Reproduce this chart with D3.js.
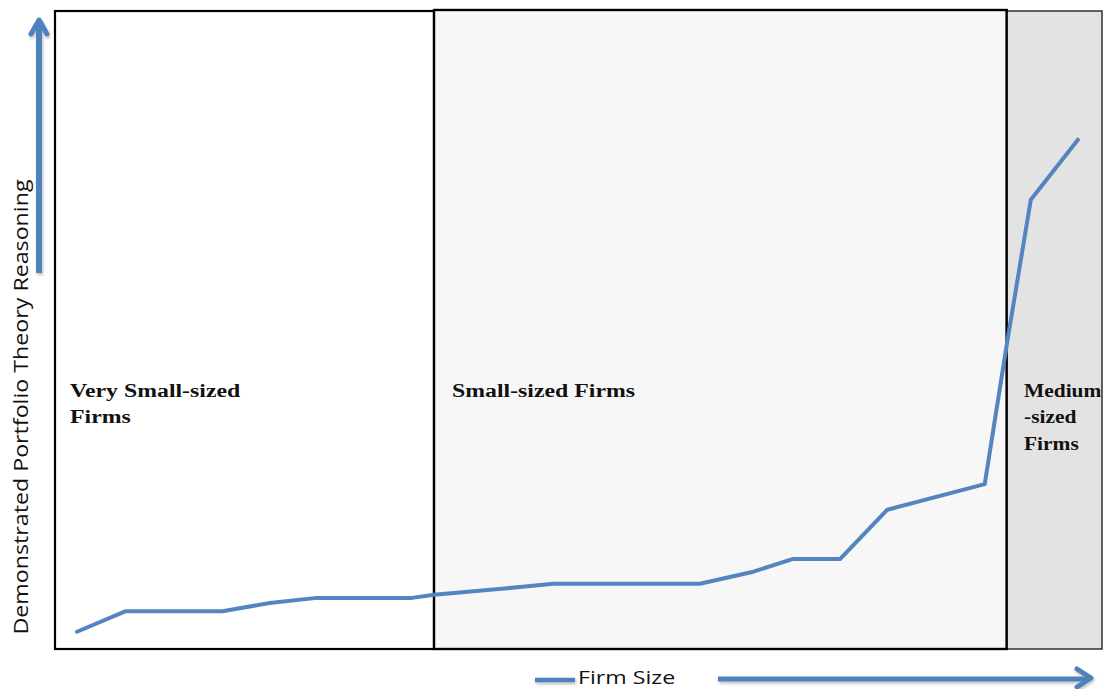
<!DOCTYPE html>
<html>
<head>
<meta charset="utf-8">
<script src="https://cdn.jsdelivr.net/npm/d3@7"></script>
<style>
  html, body { margin: 0; padding: 0; background: #ffffff; }
  svg { display: block; }
</style>
</head>
<body>
<svg id="chart" width="1107" height="689"></svg>
<script>
// Firm size (0–100) against demonstrated portfolio-theory reasoning (0–100)
const firmSize  = [2.1, 6.7, 16.0, 20.5, 25.0, 34.1, 36.2, 40.5, 44.4, 47.6, 61.6, 66.7, 70.5, 75.0, 79.5, 88.8, 90.9, 93.2, 97.7];
const reasoning = [2.7, 5.9, 5.9, 7.2, 8.0, 8.0, 8.5, 9.1, 9.7, 10.2, 10.2, 12.1, 14.1, 14.1, 21.8, 25.8, 47.6, 70.3, 79.7];

// Firm-size bands shown as shaded boxes
const bandNames  = ["Very Small-sized|Firms", "Small-sized Firms", "Medium|-sized|Firms"];
const bandStarts = [0, 36.2, 90.9];
const bandEnds   = [36.2, 90.9, 100];

const yAxisTitle = "Demonstrated Portfolio Theory Reasoning";
const xAxisTitle = "Firm Size";

const svg = d3.select("#chart");
const plot = { left: 55, right: 1102, top: 10, bottom: 649 };

const x = d3.scaleLinear().domain([0, 100]).range([plot.left, plot.right]);
const y = d3.scaleLinear().domain([0, 100]).range([plot.bottom, plot.top]);

const blue = "#4f81bd";

// soft shadow under the axis arrows
const defs = svg.append("defs");
const shadow = defs.append("filter").attr("id", "shade")
  .attr("x", "-20%").attr("y", "-50%").attr("width", "140%").attr("height", "200%");
shadow.append("feDropShadow").attr("dx", 1).attr("dy", 2).attr("stdDeviation", 1.5)
  .attr("flood-color", "#000").attr("flood-opacity", 0.25);

// bands
const bandFill   = ["#ffffff", "#f7f7f7", "#e3e3e3"];
const bandStroke = [2.2, 2.2, 1.4];
const bandTop    = [plot.top + 1, plot.top, plot.top + 1];
const bands = svg.append("g");
bandNames.forEach((name, i) => {
  bands.append("rect")
    .attr("x", x(bandStarts[i]))
    .attr("y", bandTop[i])
    .attr("width", x(bandEnds[i]) - x(bandStarts[i]))
    .attr("height", plot.bottom - bandTop[i])
    .attr("fill", bandFill[i])
    .attr("stroke", i === 2 ? "#222" : "#000")
    .attr("stroke-width", bandStroke[i]);
});
// redraw the middle band outline on top so it is not hidden by its neighbour
bands.append("rect")
  .attr("x", x(bandStarts[1]))
  .attr("y", plot.top)
  .attr("width", x(bandEnds[1]) - x(bandStarts[1]))
  .attr("height", plot.bottom - plot.top)
  .attr("fill", "none").attr("stroke", "#000").attr("stroke-width", 2.2);

// band labels (wide bold serif)
const labelX = [70, 452, 1024];
const labelStretch = [1.22, 1.22, 1.1];
bandNames.forEach((name, i) => {
  const t = svg.append("text")
    .attr("transform", `translate(${labelX[i]},397) scale(${labelStretch[i]},1)`)
    .attr("font-family", "Liberation Serif, Times New Roman, serif")
    .attr("font-weight", "bold").attr("font-size", 19.5)
    .attr("fill", "#111");
  name.split("|").forEach((part, j) => {
    t.append("tspan").attr("x", 0).attr("dy", j === 0 ? 0 : 26.5).text(part);
  });
});

// data line
const line = d3.line().x((d, i) => x(firmSize[i])).y(d => y(d));
svg.append("path")
  .datum(reasoning)
  .attr("d", line)
  .attr("fill", "none")
  .attr("stroke", "#5485c0")
  .attr("stroke-width", 4)
  .attr("stroke-linejoin", "round")
  .attr("stroke-linecap", "round");

// vertical axis arrow
const vArrow = svg.append("g").attr("filter", "url(#shade)");
vArrow.append("line")
  .attr("x1", 39).attr("x2", 39).attr("y1", 273).attr("y2", 22)
  .attr("stroke", blue).attr("stroke-width", 6);
vArrow.append("path")
  .attr("d", "M31,34 L39,20 L47,34")
  .attr("fill", "none").attr("stroke", blue).attr("stroke-width", 5)
  .attr("stroke-linecap", "round").attr("stroke-linejoin", "round");

// vertical axis title
svg.append("text")
  .attr("transform", "translate(28,407) rotate(-90) scale(1.19,1)")
  .attr("text-anchor", "middle")
  .attr("font-family", "Open Sans, Liberation Sans, sans-serif")
  .attr("font-size", 19.5)
  .attr("fill", "#111")
  .text(yAxisTitle);

// horizontal axis: short lead-in, title, and arrow
const hArrow = svg.append("g").attr("filter", "url(#shade)");
hArrow.append("line")
  .attr("x1", 535).attr("x2", 575).attr("y1", 680).attr("y2", 680)
  .attr("stroke", blue).attr("stroke-width", 4.5);
hArrow.append("line")
  .attr("x1", 718).attr("x2", 1088).attr("y1", 679).attr("y2", 679)
  .attr("stroke", blue).attr("stroke-width", 5);
hArrow.append("path")
  .attr("d", "M1077,669 L1091,678 L1077,687")
  .attr("fill", "none").attr("stroke", blue).attr("stroke-width", 5)
  .attr("stroke-linecap", "round").attr("stroke-linejoin", "round");

svg.append("text")
  .attr("transform", "translate(578,684) scale(1.22,1)")
  .attr("font-family", "Open Sans, Liberation Sans, sans-serif")
  .attr("font-size", 19)
  .attr("fill", "#111")
  .text(xAxisTitle);
</script>
</body>
</html>
